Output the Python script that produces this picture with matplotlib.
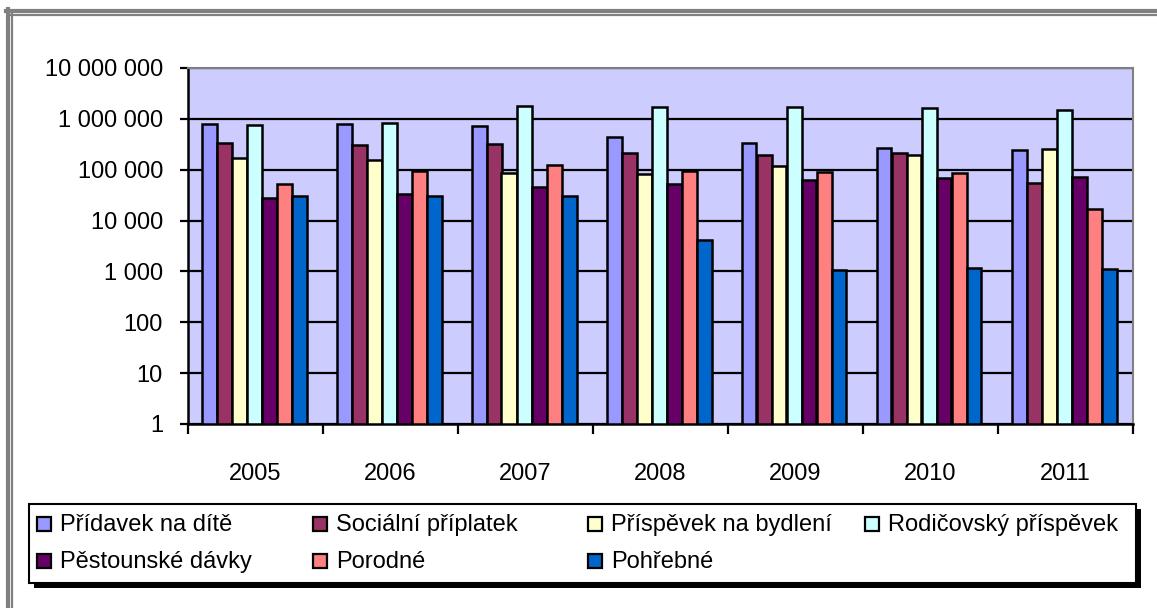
import numpy as np
import matplotlib.pyplot as plt
from matplotlib.patches import Rectangle
from matplotlib.lines import Line2D
from matplotlib.ticker import FixedLocator, NullLocator, FuncFormatter


# -----------------------------
# DATA
# -----------------------------
years = ["2005", "2006", "2007", "2008", "2009", "2010", "2011"]

series_names = [
    "Přídavek na dítě",
    "Sociální příplatek",
    "Příspěvek na bydlení",
    "Rodičovský příspěvek",
    "Pěstounské dávky",
    "Porodné",
    "Pohřebné",
]

pridavek    = [776000, 776000, 718000, 441000, 336000, 268000, 249000]
socialni    = [342000, 313000, 321000, 217000, 199000, 217000, 56000]
bydleni     = [170000, 158000, 88000, 83000, 120000, 195000, 261000]
rodicovsky  = [751000, 822000, 1780000, 1680000, 1680000, 1600000, 1470000]
pestounske  = [28000, 34000, 46000, 53000, 62000, 70000, 73000]
porodne     = [53000, 96000, 126000, 96000, 92000, 88000, 16800]
pohrebne    = [31000, 30000, 30000, 4200, 1090, 1150, 1100]

series_values = [pridavek, socialni, bydleni, rodicovsky, pestounske, porodne, pohrebne]

colors = ["#9999FF", "#993366", "#FFFFCC", "#CCFFFF", "#660066", "#FF8080", "#0066CC"]


# -----------------------------
# FIGURE
# -----------------------------
plt.rcParams["font.family"] = ["Liberation Sans", "DejaVu Sans"]
fs = 17

W, H = 1157, 608
fig = plt.figure(figsize=(W / 100, H / 100), dpi=100)

# plot area in pixels
px_l, px_r, px_t, px_b = 188, 1133, 68, 424
ax = fig.add_axes([px_l / W, 1 - px_b / H, (px_r - px_l) / W, (px_b - px_t) / H])
ax.set_facecolor("#CCCCFF")

ax.set_yscale("log")
ax.set_ylim(1, 1e7)
ax.set_xlim(0, len(years))

n = len(series_names)
bw = 1.0 / (n + 2)
x = np.arange(len(years))
for i, (vals, c) in enumerate(zip(series_values, colors)):
    ax.bar(x + bw * (i + 0.9), vals, width=bw, bottom=1, align="edge",
           color=c, edgecolor="black", linewidth=1.8, zorder=3)

# grid
ax.set_axisbelow(True)
ax.yaxis.set_major_locator(FixedLocator([10 ** k for k in range(8)]))
ax.yaxis.set_minor_locator(NullLocator())
ax.yaxis.set_major_formatter(FuncFormatter(lambda v, p: f"{int(round(v)):,}".replace(",", " ")))
ax.grid(axis="y", color="black", linewidth=1.6)

# x ticks at boundaries, labels at centers
ax.set_xticks(np.arange(len(years) + 1))
ax.set_xticklabels([])
ax.set_xticks(x + 0.5, minor=True)
ax.set_xticklabels(years, minor=True)
ax.tick_params(axis="x", which="major", direction="out", length=7, width=1.6, color="black")
ax.tick_params(axis="x", which="minor", length=0, pad=28, labelsize=fs)
ax.tick_params(axis="y", which="major", direction="out", length=6, width=1.6, pad=12, labelsize=fs)

for s in ["left", "bottom"]:
    ax.spines[s].set_color("black")
    ax.spines[s].set_linewidth(1.8)
for s in ["top", "right"]:
    ax.spines[s].set_color("#808080")
    ax.spines[s].set_linewidth(1.5)


# -----------------------------
# OUTER FRAME
# -----------------------------
def fx(p):
    return p / W

def fy(p):
    return 1 - p / H

fig.add_artist(Line2D([fx(6), fx(W)], [fy(10.5), fy(10.5)], color="#808080", linewidth=3))
fig.add_artist(Line2D([fx(7.5), fx(7.5)], [fy(9), fy(H)], color="#808080", linewidth=3))
fig.add_artist(Line2D([fx(11), fx(W)], [fy(15), fy(15)], color="#808080", linewidth=1.6))
fig.add_artist(Line2D([fx(12), fx(12)], [fy(14), fy(H)], color="#808080", linewidth=1.6))


# -----------------------------
# LEGEND
# -----------------------------
lg_l, lg_r, lg_t, lg_b = 29, 1136, 504, 583
fig.add_artist(Rectangle((fx(lg_l + 5), fy(lg_b + 5)), (lg_r - lg_l) / W, (lg_b - lg_t) / H,
                         facecolor="black", edgecolor="black", linewidth=0))
fig.add_artist(Rectangle((fx(lg_l), fy(lg_b)), (lg_r - lg_l) / W, (lg_b - lg_t) / H,
                         facecolor="white", edgecolor="black", linewidth=1.5))

col_x = [37, 313, 588, 865]
row_base = [531, 568]
for i, (name, c) in enumerate(zip(series_names, colors)):
    r, k = divmod(i, 4)
    mx, yb = col_x[k], row_base[r]
    fig.add_artist(Rectangle((fx(mx), fy(yb)), 14 / W, 14 / H,
                             facecolor=c, edgecolor="black", linewidth=1.6))
    fig.text(fx(mx + 23), fy(yb), name, fontsize=fs, ha="left", va="baseline")

plt.savefig("out.png", dpi=100)
plt.close()
